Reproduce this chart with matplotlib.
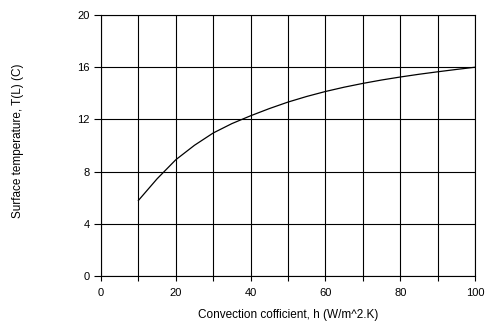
import matplotlib
matplotlib.use("Agg")
import matplotlib.pyplot as plt
import numpy as np

plt.rcParams["font.family"] = ["Liberation Sans", "DejaVu Sans"]

# Surface temperature vs convection coefficient
h_values = [10, 15, 20, 25, 30, 35, 40, 45, 50, 55, 60, 65, 70, 75, 80, 85, 90, 95, 100]
t_surface = [5.79, 7.45, 8.91, 10.02, 10.96, 11.68, 12.28, 12.83, 13.33, 13.76, 14.14,
             14.47, 14.76, 15.02, 15.25, 15.46, 15.65, 15.83, 16.0]

x_ticks = np.arange(0, 101, 10)
x_labels = ["0", "", "20", "", "40", "", "60", "", "80", "", "100"]
y_ticks = [0, 4, 8, 12, 16, 20]

fig = plt.figure(figsize=(4.87, 3.27), dpi=100)
ax = fig.add_axes([0.2074, 0.156, 0.768, 0.798])

ax.plot(h_values, t_surface, color="black", linewidth=0.9)

ax.set_xlim(0, 100)
ax.set_ylim(0, 20)
ax.set_xticks(x_ticks)
ax.set_xticklabels(x_labels)
ax.set_yticks(y_ticks)
ax.grid(True, color="black", linewidth=0.8)
ax.set_axisbelow(True)
for sp in ax.spines.values():
    sp.set_linewidth(0.8)

ax.tick_params(axis="x", length=3.5, width=0.8, labelsize=8, pad=5)
ax.tick_params(axis="y", length=5, width=0.8, labelsize=8, pad=3)

ax.set_xlabel("Convection cofficient, h (W/m^2.K)", fontsize=8.5)
ax.set_ylabel("Surface temperature, T(L) (C)", fontsize=8.5)
ax.xaxis.set_label_coords(0.5, -0.125)
ax.yaxis.set_label_coords(-0.205, 0.52)

fig.savefig("out.png", dpi=100)
